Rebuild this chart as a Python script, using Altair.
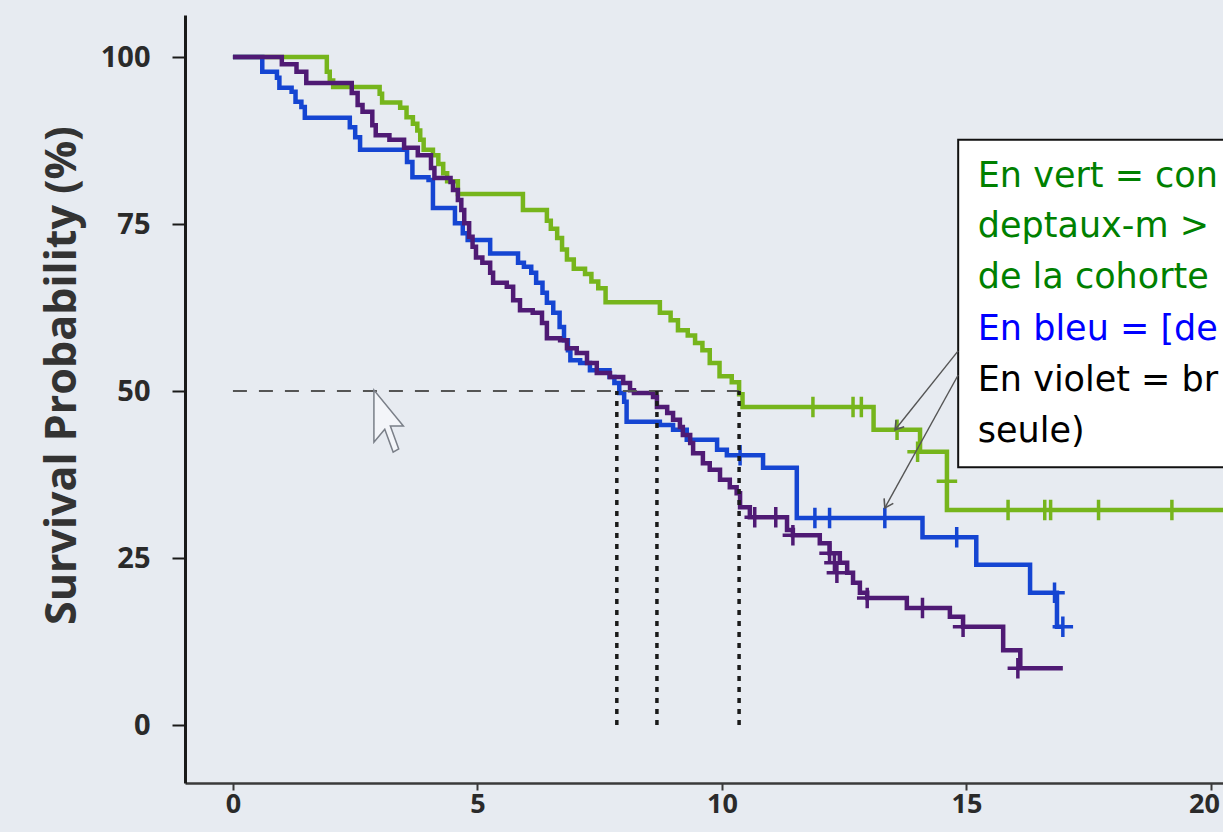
import altair as alt
import pandas as pd

# ---------------- Kaplan-Meier curves (time, survival %) ----------------
green_t = [0, 1.92, 1.98, 2.05, 3.0, 3.05, 3.42, 3.55, 3.68, 3.77, 3.83, 3.9, 4.09, 4.2, 4.3, 4.38, 4.6,
           5.93, 6.42, 6.5, 6.63, 6.73, 6.83, 6.97, 7.2, 7.33, 7.47, 7.62, 8.73, 8.95, 9.1, 9.3, 9.45,
           9.6, 9.75, 9.95, 10.2, 10.35, 10.42, 13.1, 14.05, 14.6, 20.3]
green_s = [100, 97.8, 96.5, 95.5, 94.5, 93.2, 92.4, 91.0, 90.0, 89.0, 87.6, 86.1, 85.3, 84.0, 82.6, 81.4, 79.5,
           77.1, 75.5, 74.3, 72.9, 71.2, 69.7, 68.3, 67.5, 66.4, 65.4, 63.3, 61.7, 60.6, 59.1, 58.3, 57.2,
           56.1, 54.2, 52.2, 51.3, 49.5, 47.6, 44.2, 40.9, 32.2, 32.2]
green_cens_t = [11.86, 12.68, 12.85, 13.58, 14.0, 14.6, 15.85, 16.6, 16.72, 17.7, 19.2]
green_cens_s = [47.6, 47.6, 47.6, 44.2, 40.9, 36.5, 32.2, 32.2, 32.2, 32.2, 32.2]

blue_t = [0, 0.6, 0.9, 0.95, 1.2, 1.28, 1.4, 1.47, 2.39, 2.5, 2.6, 3.56, 3.67, 4.0, 4.09, 4.54, 4.7, 4.8,
          5.26, 5.83, 5.95, 6.1, 6.2, 6.33, 6.42, 6.55, 6.68, 6.77, 6.85, 6.9, 7.1, 7.3, 7.7, 7.8, 7.9,
          8.0, 8.05, 8.73, 9.0, 9.28, 9.9, 10.1, 10.84, 11.53, 14.1, 15.2, 16.3, 16.85, 16.97]
blue_s = [100, 97.8, 96.9, 95.4, 94.8, 93.3, 92.5, 90.9, 89.5, 88.0, 86.1, 84.3, 82.0, 81.6, 77.4, 75.1, 73.6, 72.6,
          70.6, 69.2, 68.6, 67.7, 66.2, 64.7, 63.2, 61.7, 59.6, 57.6, 56.1, 54.6, 54.2, 53.1, 52.1, 51.2, 49.7,
          48.4, 45.4, 44.9, 44.2, 42.7, 41.2, 40.4, 38.5, 31.0, 28.1, 24.0, 19.8, 14.7, 14.7]
blue_cens_t = [10.37, 11.9, 12.2, 13.33, 14.8, 16.8, 16.97]
blue_cens_s = [40.4, 31.0, 31.0, 31.0, 28.1, 19.8, 14.7]

violet_t = [0, 1.0, 1.3, 1.5, 2.43, 2.55, 2.65, 2.85, 2.92, 3.2, 3.5, 3.78, 4.05, 4.12, 4.45, 4.5, 4.6, 4.67,
            4.73, 4.83, 4.9, 4.97, 5.1, 5.26, 5.32, 5.6, 5.73, 5.87, 6.13, 6.32, 6.42, 6.69, 6.83, 7.03, 7.24,
            7.44, 7.71, 7.98, 8.12, 8.2, 8.59, 8.67, 8.88, 9.0, 9.14, 9.2, 9.35, 9.41, 9.61, 9.75, 9.96,
            10.16, 10.3, 10.37, 10.57, 11.33, 11.45, 12.0, 12.2, 12.41, 12.56, 12.68, 12.82, 12.97, 13.78,
            14.66, 14.93, 15.75, 16.1, 16.97]
violet_s = [100, 98.9, 97.8, 96.1, 94.6, 92.8, 91.8, 89.8, 88.3, 87.6, 86.4, 85.3, 83.4, 81.9, 81.3, 80.1, 78.6, 77.1,
            75.1, 73.1, 71.6, 70.0, 69.2, 67.7, 66.2, 65.6, 63.6, 62.1, 61.7, 60.2, 57.9, 57.6, 56.4, 55.7, 54.2,
            52.7, 52.1, 51.2, 50.1, 49.7, 49.1, 47.6, 46.7, 45.7, 44.6, 43.4, 42.2, 40.7, 39.2, 38.2, 36.7,
            35.6, 34.7, 32.6, 31.1, 29.2, 28.4, 27.2, 25.7, 24.3, 22.8, 21.3, 19.8, 19.0, 17.5,
            16.2, 14.7, 11.2, 8.5, 8.5]
violet_cens_t = [10.67, 11.1, 11.45, 12.2, 12.3, 12.35, 12.97, 14.1, 14.93, 16.05]
violet_cens_s = [31.1, 31.1, 28.4, 25.7, 24.3, 22.8, 19.0, 17.5, 14.7, 8.5]

groups = ["vert", "bleu", "violet"]
group_colors = ["#76b51c", "#1545d2", "#4f1a74"]

# ---------------- median reference lines ----------------
median_level = [50]
median_times = [7.85, 8.67, 10.35]

# ---------------- annotation ----------------
box_t, box_t2, box_s, box_s2 = [14.83], [20.8], [87.6], [38.6]
note_lines = ["En vert = con", "deptaux-m > ", "de la cohorte", "En bleu = [de", "En violet = br", "seule)"]
note_colors = ["#008000", "#008000", "#008000", "#0000ff", "#000000", "#000000"]
note_s = [80.5, 73.0, 65.4, 57.6, 50.0, 42.4]
note_t = [15.23] * 6
arrow_t = [14.83, 14.83]
arrow_s = [56.0, 52.4]
arrow_t2 = [13.54, 13.33]
arrow_s2 = [44.2, 32.5]
arrow_angle = [128.6, 118.8]
cursor_t, cursor_s = [3.2], [45.5]

# ---------------- tables ----------------
lines_df = pd.concat([
    pd.DataFrame({"t": green_t, "s": green_s, "g": "vert"}),
    pd.DataFrame({"t": blue_t, "s": blue_s, "g": "bleu"}),
    pd.DataFrame({"t": violet_t, "s": violet_s, "g": "violet"}),
])
cens_df = pd.concat([
    pd.DataFrame({"t": green_cens_t, "s": green_cens_s, "g": "vert"}),
    pd.DataFrame({"t": blue_cens_t, "s": blue_cens_s, "g": "bleu"}),
    pd.DataFrame({"t": violet_cens_t, "s": violet_cens_s, "g": "violet"}),
])
hline_df = pd.DataFrame({"t": [0], "t2": [median_times[-1]], "s": median_level})
vline_df = pd.DataFrame({"t": median_times, "s": [0] * 3, "s2": median_level * 3})
box_df = pd.DataFrame({"t": box_t, "t2": box_t2, "s": box_s, "s2": box_s2})
note_df = pd.DataFrame({"t": note_t, "s": note_s, "label": note_lines, "col": note_colors})
arrow_df = pd.DataFrame({"t": arrow_t, "s": arrow_s, "t2": arrow_t2, "s2": arrow_s2})
head_df = pd.DataFrame({"t": arrow_t2, "s": arrow_s2, "a": arrow_angle})
cursor_df = pd.DataFrame({"t": cursor_t, "s": cursor_s})

# ---------------- scales / axes ----------------
xs = alt.Scale(domain=[-0.98, 20.245], nice=False, zero=False)
ys = alt.Scale(domain=[-8.68, 106.29], nice=False, zero=False)
x_axis = alt.Axis(values=[0, 5, 10, 15, 20], grid=False, title=None,
                  domainColor="#3a3a3a", domainWidth=2.5, tickColor="#3a3a3a", tickWidth=2, tickSize=7,
                  labelFont="Open Sans", labelFontWeight="bold", labelFontSize=27, labelColor="#2a2a2a",
                  labelPadding=1, labelFlush=False,
                  labelOffset=alt.expr("datum.value === 20 ? -7 : 0"))
y_axis = alt.Axis(values=[0, 25, 50, 75, 100], grid=False, title="Survival Probability (%)",
                  domainColor="#1a1a1a", domainWidth=3, tickColor="#1a1a1a", tickWidth=2, tickSize=13,
                  labelFont="Open Sans", labelFontWeight="bold", labelFontSize=29, labelColor="#2a2a2a",
                  labelPadding=22, labelFlush=False,
                  titleFont="Open Sans", titleFontWeight="bold", titleFontSize=43, titleColor="#333333",
                  titleAngle=270, titleX=-123, titleY=360, titleAlign="center", titleBaseline="middle")
X = alt.X("t:Q", scale=xs, axis=x_axis)
Y = alt.Y("s:Q", scale=ys, axis=y_axis)
color = alt.Color("g:N", scale=alt.Scale(domain=groups, range=group_colors), legend=None)

curves = alt.Chart(lines_df).mark_line(interpolate="step-after", strokeWidth=4.5, clip=True).encode(
    x=X, y=Y, color=color)
censors = alt.Chart(cens_df).mark_point(shape="M -1 0 L 1 0 M 0 -1 L 0 1", size=420, strokeWidth=3.5,
                                        filled=False, opacity=1, clip=True).encode(x=X, y=Y, color=color)
hline = alt.Chart(hline_df).mark_rule(color="#555555", strokeWidth=1.8, strokeDash=[14, 12]).encode(
    x=X, x2="t2:Q", y=Y)
vlines = alt.Chart(vline_df).mark_rule(color="#1a1a1a", strokeWidth=3.5, strokeDash=[5, 6]).encode(
    x=X, y=Y, y2="s2:Q")
box = alt.Chart(box_df).mark_rect(fill="white", stroke="#111111", strokeWidth=2, clip=True).encode(
    x=X, x2="t2:Q", y=Y, y2="s2:Q")
notes = alt.Chart(note_df).mark_text(align="left", baseline="alphabetic", font="DejaVu Sans",
                                     fontSize=35, clip=True).encode(
    x=X, y=Y, text="label:N", color=alt.Color("col:N", scale=None))
arrows = alt.Chart(arrow_df).mark_rule(color="#555555", strokeWidth=1.4).encode(
    x=X, y=Y, x2="t2:Q", y2="s2:Q")
heads = alt.Chart(head_df).mark_point(shape="M -1 -0.65 L 0 0 L -1 0.65", size=260, filled=False,
                                      color="#555555", strokeWidth=1.6, opacity=1).encode(
    x=X, y=Y, angle=alt.Angle("a:Q", scale=None))
cursor = alt.Chart(cursor_df).mark_point(
    shape="M -0.5 -1 L -0.5 0.684 L -0.15 0.263 L 0.12 1 L 0.3 0.9 L 0.03 0.158 L 0.45 0.158 Z",
    size=3844, filled=True, fill="#f3f5f9", stroke="#7a7f88", strokeWidth=1.5, opacity=1).encode(x=X, y=Y)

chart = alt.layer(curves, censors, hline, vlines, cursor, box, notes, arrows, heads).properties(
    width=1038, height=768,
    padding={"left": 185, "top": 15, "right": 0, "bottom": 49},
    autosize=alt.AutoSizeParams(type="none"),
).configure(background="#e7ebf1").configure_view(strokeWidth=0)

chart.save("out.html", embed_options={"renderer": "svg", "actions": False})
